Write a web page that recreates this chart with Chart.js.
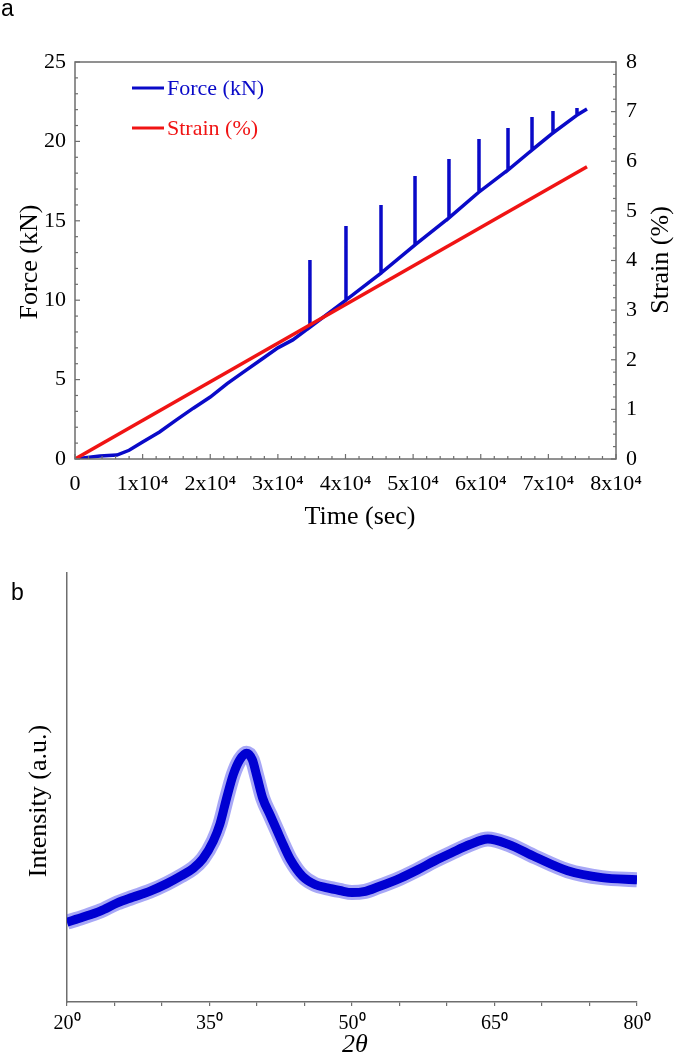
<!DOCTYPE html>
<html>
<head>
<meta charset="utf-8">
<script src="https://cdn.jsdelivr.net/npm/chart.js@4.4.1/dist/chart.umd.min.js"></script>
<style>
  body { margin: 0; background: #fff; }
  canvas { display: block; }
</style>
</head>
<body>
<canvas id="chart-a" width="675" height="540"></canvas>
<canvas id="chart-b" width="675" height="519"></canvas>
<script>
// panel a: force / strain vs time
const rampTime = [0, 1500, 3700, 6200, 8000, 10000, 12500, 15000, 17500, 20000, 22500, 25000, 27500, 30000, 32200]
const rampForce = [0, 0.08, 0.19, 0.25, 0.55, 1.07, 1.7, 2.46, 3.2, 3.9, 4.75, 5.5, 6.25, 7.0, 7.5]
const spikeTime = [34740, 40070, 45250, 50280, 55300, 59740, 64030, 67580, 70680, 74230]
const spikeBase = [8.3, 10.01, 11.71, 13.48, 15.18, 16.81, 18.2, 19.46, 20.53, 21.66]
const spikeTop = [12.53, 14.67, 16.0, 17.82, 18.89, 20.15, 20.84, 21.54, 21.91, 22.1]
const endTime = 75710
const endForce = 22.04

const strainTime = [0, 75710]
const strainPct = [0, 5.89]

// panel b: XRD pattern
const xrdAngle = [20.0, 21.7, 23.5, 25.3, 26.9, 28.7, 30.5, 32.0, 33.3, 34.3, 35.4, 36.1, 36.8, 37.5, 38.2, 38.9, 39.5, 40.0, 40.6, 41.4, 42.1, 42.8, 43.5, 44.8, 46.1, 47.4, 48.7, 50.0, 51.4, 52.7, 55.1, 56.9, 58.7, 60.5, 62.4, 64.3, 66.4, 69.3, 72.7, 76.3, 80.0]
const xrdIntensity = [18.6, 19.8, 21.2, 23.1, 24.4, 25.8, 27.6, 29.4, 31.2, 33.4, 37.5, 41.5, 47.5, 53, 56.5, 58.0, 56.5, 52.5, 47.5, 43.5, 40, 36.5, 33.3, 29.3, 27.4, 26.6, 26.0, 25.5, 25.8, 26.8, 28.9, 30.8, 32.9, 34.8, 36.7, 38.0, 36.8, 33.8, 30.6, 29.0, 28.5]

const xrdTickLabels = [20, 35, 50, 65, 80]

const serif = '"Liberation Serif", "Times New Roman", serif'
const sans = '"Liberation Sans", Arial, sans-serif'
const gray = '#6e6e6e'
const blue = 'rgb(10,10,200)'
const red = 'rgb(240,20,20)'

let forcePoints = []
for (let i = 0; i < rampTime.length; i++) {
    forcePoints.push({x: rampTime[i], y: rampForce[i]})
}
for (let i = 0; i < spikeTime.length; i++) {
    forcePoints.push({x: spikeTime[i], y: spikeBase[i]})
    forcePoints.push({x: spikeTime[i], y: spikeTop[i]})
    forcePoints.push({x: spikeTime[i], y: spikeBase[i]})
}
forcePoints.push({x: endTime, y: endForce})

let strainPoints = strainTime.map((t, i) => ({x: t, y: strainPct[i]}))

function inward_ticks(ctx, scale, step, major, pos, dir, vertical) {
    let n = Math.round((scale.max - scale.min) / step)
    for (let i = 0; i <= n; i++) {
        let v = scale.min + i * step
        let r = v / major
        let len = Math.abs(r - Math.round(r)) < 1e-6 ? 5 : 3
        let p = scale.getPixelForValue(v)
        ctx.beginPath()
        if (vertical) {
            ctx.moveTo(pos, p)
            ctx.lineTo(pos + dir * len, p)
        } else {
            ctx.moveTo(p, pos)
            ctx.lineTo(p, pos + dir * len)
        }
        ctx.stroke()
    }
}

const decorA = {
    id: 'decorA',
    afterDraw(chart) {
        const {ctx, chartArea: a, scales} = chart
        ctx.save()
        ctx.strokeStyle = gray
        ctx.lineWidth = 1.5
        ctx.strokeRect(a.left, a.top, a.right - a.left, a.bottom - a.top)
        ctx.lineWidth = 1.2
        inward_ticks(ctx, scales.x, 2000, 10000, a.bottom, -1, false)
        inward_ticks(ctx, scales.y, 1, 5, a.left, 1, true)
        inward_ticks(ctx, scales.y2, 0.25, 1, a.right, -1, true)

        // legend
        ctx.lineWidth = 3
        ctx.strokeStyle = blue
        ctx.beginPath(); ctx.moveTo(132, 88); ctx.lineTo(164, 88); ctx.stroke()
        ctx.strokeStyle = red
        ctx.beginPath(); ctx.moveTo(132, 128); ctx.lineTo(164, 128); ctx.stroke()
        ctx.font = '22px ' + serif
        ctx.textAlign = 'left'
        ctx.textBaseline = 'middle'
        ctx.fillStyle = blue
        ctx.fillText('Force (kN)', 167, 89)
        ctx.fillStyle = red
        ctx.fillText('Strain (%)', 167, 129)

        // axis titles
        ctx.fillStyle = '#000'
        ctx.font = '26px ' + serif
        ctx.textAlign = 'center'
        ctx.fillText('Time (sec)', 360, 517)
        ctx.save()
        ctx.translate(30, 262)
        ctx.rotate(-Math.PI / 2)
        ctx.fillText('Force (kN)', 0, 0)
        ctx.restore()
        ctx.save()
        ctx.translate(661, 260)
        ctx.rotate(-Math.PI / 2)
        ctx.fillText('Strain (%)', 0, 0)
        ctx.restore()

        ctx.font = '23px ' + sans
        ctx.textAlign = 'left'
        ctx.textBaseline = 'alphabetic'
        ctx.fillText('a', 1, 16)
        ctx.restore()
    }
}

let tick_font = {family: serif, size: 22}

let chart_a = new Chart(document.getElementById('chart-a'), {
    type: 'line',
    data: {
        datasets: [{
            label: 'Strain (%)',
            data: strainPoints,
            yAxisID: 'y2',
            borderColor: red,
            borderWidth: 3.5,
            pointRadius: 0,
            order: 0
        },
        {
            label: 'Force (kN)',
            data: forcePoints,
            yAxisID: 'y',
            borderColor: blue,
            borderWidth: 3.5,
            pointRadius: 0,
            tension: 0,
            order: 1
        }]
    },
    options: {
        responsive: false,
        animation: false,
        parsing: false,
        layout: {padding: {top: 62, left: 0, right: 0, bottom: 0}},
        plugins: {legend: {display: false}, tooltip: {enabled: false}},
        scales: {
            x: {
                type: 'linear',
                min: 0,
                max: 80000,
                afterFit: s => { s.height = 81 },
                grid: {display: false, drawTicks: false},
                border: {display: false},
                ticks: {
                    stepSize: 10000,
                    autoSkip: false,
                    maxRotation: 0,
                    padding: 12,
                    color: '#000',
                    font: tick_font,
                    callback: v => v === 0 ? '0' : (v / 10000) + 'x10\u2074'
                }
            },
            y: {
                position: 'left',
                min: 0,
                max: 25,
                afterFit: s => { s.width = 75 },
                grid: {display: false, drawTicks: false},
                border: {display: false},
                ticks: {stepSize: 5, padding: 9, color: '#000', font: tick_font}
            },
            y2: {
                position: 'right',
                min: 0,
                max: 8,
                afterFit: s => { s.width = 59 },
                grid: {display: false, drawTicks: false},
                border: {display: false},
                ticks: {stepSize: 1, padding: 10, color: '#000', font: tick_font}
            }
        }
    },
    plugins: [decorA]
});

const decorB = {
    id: 'decorB',
    afterDraw(chart) {
        const {ctx} = chart
        ctx.save()
        ctx.fillStyle = '#000'
        ctx.textAlign = 'center'
        ctx.textBaseline = 'middle'
        ctx.font = 'italic 26px ' + serif
        ctx.fillText('2\u03b8', 355, 505)
        ctx.font = '26px ' + serif
        ctx.save()
        ctx.translate(39, 261)
        ctx.rotate(-Math.PI / 2)
        ctx.fillText('Intensity (a.u.)', 0, 0)
        ctx.restore()
        ctx.font = '23px ' + sans
        ctx.textAlign = 'left'
        ctx.textBaseline = 'alphabetic'
        ctx.fillText('b', 11, 60)
        ctx.restore()
    }
}

let chart_b = new Chart(document.getElementById('chart-b'), {
    type: 'line',
    data: {
        datasets: [{
            data: xrdAngle.map((a, i) => ({x: a, y: xrdIntensity[i]})),
            borderColor: 'rgb(0,0,210)',
            borderWidth: 9,
            pointRadius: 0,
            cubicInterpolationMode: 'monotone',
            order: 0
        },
        {
            data: xrdAngle.map((a, i) => ({x: a, y: xrdIntensity[i]})),
            borderColor: 'rgba(60,60,235,0.45)',
            borderWidth: 15,
            pointRadius: 0,
            cubicInterpolationMode: 'monotone',
            order: 1
        }]
    },
    options: {
        responsive: false,
        animation: false,
        parsing: false,
        layout: {padding: {top: 33, left: 0, right: 38, bottom: 0}},
        plugins: {legend: {display: false}, tooltip: {enabled: false}},
        scales: {
            x: {
                type: 'linear',
                min: 20,
                max: 80,
                afterFit: s => { s.height = 57 },
                grid: {display: true, drawOnChartArea: false, drawTicks: true, tickLength: 4, color: gray, lineWidth: 1.2},
                border: {display: true, color: gray, width: 1.5},
                ticks: {
                    stepSize: 5,
                    autoSkip: false,
                    maxRotation: 0,
                    padding: 6,
                    color: '#000',
                    font: {family: serif, size: 20},
                    callback: v => xrdTickLabels.includes(v) ? v + '\u2070' : ''
                }
            },
            y: {
                min: 0,
                max: 100,
                afterFit: s => { s.width = 67 },
                grid: {display: false, drawTicks: false},
                border: {display: true, color: gray, width: 1.5},
                ticks: {display: false}
            }
        }
    },
    plugins: [decorB]
});
</script>
</body>
</html>
